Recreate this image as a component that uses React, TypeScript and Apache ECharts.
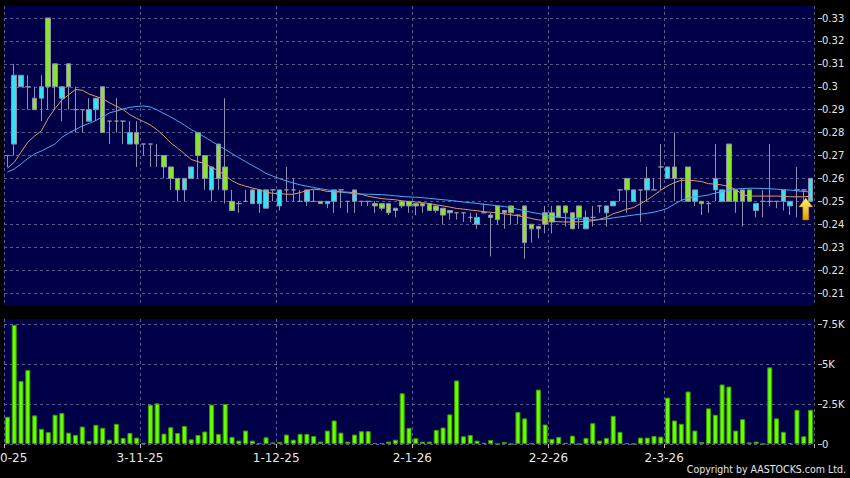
import React, { useEffect, useRef } from 'react';
import * as echarts from 'echarts';

// [open, close, low, high]
const candles: number[][] = [
  [0.27, 0.27, 0.265, 0.27], [0.275, 0.305, 0.27, 0.31], [0.30, 0.305, 0.30, 0.305], [0.30, 0.30, 0.29, 0.305],
  [0.295, 0.29, 0.29, 0.30], [0.295, 0.30, 0.285, 0.305], [0.33, 0.30, 0.29, 0.33], [0.31, 0.30, 0.29, 0.31],
  [0.295, 0.30, 0.285, 0.30], [0.31, 0.30, 0.29, 0.31], [0.29, 0.29, 0.28, 0.30], [0.29, 0.29, 0.28, 0.29],
  [0.285, 0.29, 0.285, 0.295], [0.29, 0.295, 0.285, 0.295], [0.30, 0.28, 0.28, 0.30], [0.285, 0.285, 0.275, 0.285],
  [0.285, 0.285, 0.28, 0.295], [0.285, 0.285, 0.275, 0.285], [0.275, 0.28, 0.275, 0.285], [0.28, 0.275, 0.265, 0.285],
  [0.275, 0.275, 0.27, 0.275], [0.275, 0.275, 0.265, 0.275], [0.27, 0.27, 0.265, 0.275], [0.27, 0.265, 0.26, 0.27],
  [0.265, 0.26, 0.255, 0.265], [0.26, 0.255, 0.25, 0.26], [0.255, 0.26, 0.25, 0.26], [0.26, 0.265, 0.26, 0.265],
  [0.28, 0.27, 0.26, 0.28], [0.27, 0.26, 0.255, 0.27], [0.255, 0.265, 0.25, 0.265], [0.275, 0.26, 0.255, 0.275],
  [0.265, 0.255, 0.249, 0.295], [0.25, 0.246, 0.246, 0.255], [0.249, 0.249, 0.245, 0.25], [0.25, 0.25, 0.25, 0.255],
  [0.249, 0.255, 0.249, 0.255], [0.249, 0.255, 0.245, 0.255], [0.247, 0.255, 0.247, 0.255], [0.255, 0.255, 0.25, 0.255],
  [0.248, 0.255, 0.246, 0.255], [0.255, 0.255, 0.25, 0.265], [0.255, 0.255, 0.25, 0.26], [0.25, 0.25, 0.25, 0.255],
  [0.25, 0.255, 0.248, 0.255], [0.25, 0.25, 0.25, 0.255], [0.25, 0.249, 0.249, 0.25], [0.249, 0.25, 0.247, 0.25],
  [0.25, 0.255, 0.245, 0.255], [0.255, 0.255, 0.247, 0.255], [0.25, 0.25, 0.245, 0.25], [0.25, 0.255, 0.245, 0.255],
  [0.25, 0.25, 0.248, 0.25], [0.25, 0.25, 0.248, 0.25], [0.249, 0.248, 0.245, 0.25], [0.249, 0.247, 0.246, 0.249],
  [0.249, 0.245, 0.244, 0.249], [0.246, 0.247, 0.243, 0.247], [0.25, 0.248, 0.247, 0.25], [0.25, 0.248, 0.245, 0.25],
  [0.249, 0.248, 0.244, 0.249], [0.249, 0.248, 0.245, 0.249], [0.249, 0.246, 0.246, 0.249], [0.248, 0.246, 0.245, 0.248],
  [0.247, 0.244, 0.24, 0.247], [0.246, 0.245, 0.242, 0.246], [0.245, 0.245, 0.242, 0.245], [0.245, 0.245, 0.241, 0.245],
  [0.243, 0.243, 0.241, 0.245], [0.24, 0.243, 0.238, 0.245], [0.245, 0.245, 0.245, 0.249], [0.243, 0.244, 0.226, 0.245],
  [0.248, 0.242, 0.24, 0.248], [0.245, 0.246, 0.238, 0.246], [0.248, 0.245, 0.24, 0.248], [0.244, 0.244, 0.24, 0.244],
  [0.248, 0.232, 0.225, 0.248], [0.24, 0.238, 0.232, 0.24], [0.238, 0.239, 0.234, 0.239], [0.245, 0.24, 0.236, 0.248],
  [0.245, 0.241, 0.236, 0.248], [0.248, 0.243, 0.243, 0.248], [0.248, 0.245, 0.239, 0.248], [0.245, 0.238, 0.238, 0.245],
  [0.248, 0.243, 0.238, 0.248], [0.238, 0.243, 0.238, 0.246], [0.243, 0.243, 0.239, 0.248], [0.248, 0.248, 0.245, 0.248],
  [0.245, 0.248, 0.239, 0.248], [0.248, 0.25, 0.248, 0.25], [0.255, 0.255, 0.25, 0.255], [0.26, 0.255, 0.245, 0.26],
  [0.25, 0.255, 0.25, 0.255], [0.255, 0.255, 0.241, 0.255], [0.255, 0.26, 0.25, 0.265], [0.255, 0.255, 0.255, 0.26],
  [0.265, 0.265, 0.255, 0.275], [0.26, 0.265, 0.26, 0.265], [0.265, 0.26, 0.25, 0.28], [0.26, 0.26, 0.25, 0.26],
  [0.265, 0.25, 0.25, 0.265], [0.25, 0.255, 0.248, 0.255], [0.25, 0.249, 0.244, 0.25], [0.249, 0.249, 0.245, 0.25],
  [0.255, 0.26, 0.25, 0.275], [0.25, 0.255, 0.25, 0.255], [0.275, 0.25, 0.25, 0.275], [0.255, 0.25, 0.245, 0.255],
  [0.255, 0.25, 0.239, 0.255], [0.255, 0.25, 0.25, 0.255], [0.246, 0.249, 0.243, 0.249], [0.25, 0.25, 0.243, 0.255],
  [0.25, 0.25, 0.248, 0.275], [0.25, 0.25, 0.247, 0.25], [0.25, 0.255, 0.246, 0.255], [0.248, 0.25, 0.244, 0.25],
  [0.255, 0.255, 0.243, 0.265], [0.255, 0.255, 0.25, 0.255], [0.25, 0.26, 0.25, 0.26],
];

const volumes: number[] = [
  1700, 7450, 3930, 4620, 1790, 950, 740, 1830, 1930, 710, 570, 1090, 190, 1200, 1010, 270, 1260, 380, 690, 400,
  80, 2460, 2540, 650, 1050, 690, 1130, 290, 570, 780, 2460, 630, 2500, 440, 210, 840, 210, 60, 420, 100,
  130, 590, 270, 630, 630, 500, 150, 840, 1470, 710, 150, 590, 800, 800, 60, 60, 150, 270, 3170, 1010,
  360, 150, 150, 880, 1030, 1850, 3970, 480, 570, 210, 80, 250, 0, 130, 0, 2000, 1600, 40, 3400, 1220,
  320, 440, 80, 520, 0, 380, 1300, 210, 380, 1760, 760, 60, 0, 400, 400, 500, 460, 2900, 1470, 1260,
  3280, 840, 130, 2230, 1830, 3720, 3590, 840, 1550, 100, 150, 0, 4790, 1600, 760, 60, 2140, 480, 2140,
];

const maShort: number[] = [
  0.2645, 0.267, 0.2715, 0.2758, 0.2785, 0.2808, 0.2863, 0.2905, 0.2942, 0.2965, 0.2988, 0.2985, 0.2968, 0.2958, 0.2948,
  0.293, 0.2915, 0.29, 0.2878, 0.2862, 0.2848, 0.2833, 0.2812, 0.2785, 0.2755, 0.2732, 0.2708, 0.2683, 0.2673, 0.2665,
  0.2648, 0.2634, 0.2613, 0.259, 0.2575, 0.2566, 0.2558, 0.2551, 0.254, 0.2535, 0.2534, 0.2531, 0.2531, 0.2538, 0.2547,
  0.2553, 0.255, 0.2543, 0.2542, 0.2541, 0.254, 0.2538, 0.2531, 0.2522, 0.2517, 0.2512, 0.2509, 0.2507, 0.2502, 0.2499,
  0.2497, 0.2494, 0.249, 0.2485, 0.248, 0.2475, 0.2469, 0.2466, 0.2462, 0.2459, 0.2455, 0.2452, 0.245, 0.2445, 0.2441,
  0.2437, 0.2432, 0.2425, 0.2419, 0.2416, 0.2412, 0.2411, 0.241, 0.241, 0.2411, 0.2413, 0.2415, 0.2422, 0.243, 0.2446,
  0.2455, 0.2466, 0.2473, 0.249, 0.2506, 0.2527, 0.2549, 0.2567, 0.2582, 0.2592, 0.2592, 0.259, 0.2586, 0.2577, 0.2575,
  0.2571, 0.2565, 0.2552, 0.253, 0.2523, 0.2523, 0.2523, 0.2523, 0.2523, 0.2522, 0.252, 0.252, 0.252, 0.2522,
];

const maLong: number[] = [
  0.2628, 0.2641, 0.2663, 0.2687, 0.2707, 0.272, 0.2735, 0.275, 0.2779, 0.2798, 0.2813, 0.2829, 0.284, 0.2853, 0.2868,
  0.2886, 0.2894, 0.2903, 0.291, 0.2914, 0.2916, 0.2912, 0.2899, 0.2883, 0.2868, 0.2851, 0.2833, 0.2813, 0.2798, 0.278,
  0.2762, 0.2744, 0.2727, 0.2708, 0.269, 0.2673, 0.2656, 0.264, 0.2622, 0.261, 0.2599, 0.2589, 0.258, 0.2572, 0.2566,
  0.256, 0.2555, 0.255, 0.2546, 0.2541, 0.2537, 0.2533, 0.2532, 0.2531, 0.253, 0.2529, 0.2527, 0.2524, 0.2521, 0.2519,
  0.2518, 0.2516, 0.2513, 0.251, 0.2507, 0.2504, 0.2501, 0.2497, 0.2494, 0.2491, 0.2487, 0.2484, 0.2481, 0.2477, 0.2472,
  0.2465, 0.2459, 0.2452, 0.2447, 0.2441, 0.2435, 0.2431, 0.2428, 0.2426, 0.2423, 0.242, 0.2419, 0.242, 0.2423, 0.2428,
  0.2432, 0.2436, 0.244, 0.2444, 0.2448, 0.2453, 0.246, 0.247, 0.2488, 0.2504, 0.2515, 0.252, 0.2523, 0.2528, 0.2536,
  0.2542, 0.2548, 0.2553, 0.2556, 0.2557, 0.2557, 0.2556, 0.2555, 0.2553, 0.2551, 0.2549, 0.2546, 0.2543, 0.2541,
];

const dateLabels: string[] = ['2-10-25', '3-11-25', '1-12-25', '2-1-26', '2-2-26', '2-3-26'];
const labelIndex: number[] = [0, 20, 40, 60, 80, 97];
const priceMin = 0.21;
const priceMax = 0.33;
const priceStep = 0.01;
const volMax = 7500;
const volStep = 2500;
const arrowIndex = 117;
const arrowValue = 0.2467;

const categories = candles.map((_, i) => 'd' + i);

const BG = '#000048';
const GRID = '#5a5a8c';
const TEXT = '#e6e6e6';
const FONT = 'DejaVu Sans';

export default function App() {
  const ref = useRef<HTMLDivElement>(null);
  useEffect(() => {
    document.body.style.margin = '0';
    document.body.style.background = '#000';
    const chart = echarts.init(ref.current!, undefined, { renderer: 'svg' });
    const isLabel = (i: number) => labelIndex.includes(i);
    const gridCommon = { left: 4, right: 36, outerBoundsMode: 'none', containLabel: false };
    const vSplit = {
      show: true,
      interval: (i: number) => isLabel(i),
      lineStyle: { color: GRID, type: [3, 3] as any, width: 1 },
    };
    const hSplit = { show: true, lineStyle: { color: GRID, type: [3, 3] as any, width: 1 } };
    const option: any = {
      animation: false,
      backgroundColor: '#000',
      textStyle: { fontFamily: FONT },
      grid: [
        { ...gridCommon, top: 18, height: 275 },
        { ...gridCommon, top: 324, height: 120 },
        { ...gridCommon, top: 6, height: 300, show: true, backgroundColor: BG, borderWidth: 0 },
        { ...gridCommon, top: 319, height: 125, show: true, backgroundColor: BG, borderWidth: 0 },
      ],
      xAxis: [
        { gridIndex: 0, type: 'category', data: categories, show: false },
        {
          gridIndex: 1, type: 'category', data: categories,
          axisLine: { show: false },
          axisTick: { show: true, interval: (i: number) => isLabel(i), length: 4, lineStyle: { color: '#bbbbbb' } },
          axisLabel: {
            show: true, interval: (i: number) => isLabel(i), margin: 8, hideOverlap: false,
            formatter: (_v: string, i: number) => '{a|' + dateLabels[labelIndex.indexOf(i)] + '}',
            rich: { a: { padding: [0, 7, 0, 0], color: TEXT, fontSize: 12, fontFamily: FONT } },
          },
          splitLine: { show: false },
        },
        { gridIndex: 2, type: 'category', data: categories, axisLine: { show: false }, axisTick: { show: false }, axisLabel: { show: false }, splitLine: vSplit },
        { gridIndex: 3, type: 'category', data: categories, axisLine: { show: false }, axisTick: { show: false }, axisLabel: { show: false }, splitLine: vSplit },
      ],
      yAxis: [
        {
          gridIndex: 0, type: 'value', position: 'right', min: priceMin, max: priceMax, interval: priceStep, offset: 4,
          axisLine: { show: false },
          axisTick: { show: true, length: 4, lineStyle: { color: '#bbbbbb' } },
          axisLabel: { color: TEXT, fontSize: 10, margin: 4, fontFamily: FONT, formatter: (v: number) => String(+v.toFixed(2)) },
          splitLine: hSplit,
        },
        {
          gridIndex: 1, type: 'value', position: 'right', min: 0, max: volMax, interval: volStep, offset: 4,
          axisLine: { show: false },
          axisTick: { show: true, length: 4, lineStyle: { color: '#bbbbbb' } },
          axisLabel: { color: TEXT, fontSize: 10, margin: 4, fontFamily: FONT, formatter: (v: number) => (v === 0 ? '0' : v / 1000 + 'K') },
          splitLine: hSplit,
        },
        { gridIndex: 2, type: 'value', show: false, splitLine: { show: false } },
        { gridIndex: 3, type: 'value', show: false, splitLine: { show: false } },
      ],
      series: [
        {
          type: 'candlestick', xAxisIndex: 0, yAxisIndex: 0, data: candles, barWidth: 5,
          itemStyle: {
            color: '#33e3f2', color0: '#86e62a',
            borderColor: '#9090ae', borderColor0: '#9090ae', borderColorDoji: '#9090ae', borderWidth: 1,
          },
          markPoint: {
            symbol: 'path://M7 0 L14 9 L10 9 L10 22 L4 22 L4 9 L0 9 Z',
            symbolSize: [14, 22],
            symbolOffset: [2, 0],
            label: { show: false },
            itemStyle: {
              color: new echarts.graphic.LinearGradient(0, 0, 0, 1, [
                { offset: 0, color: '#fff27a' },
                { offset: 1, color: '#e0a000' },
              ]),
              borderColor: '#b07800', borderWidth: 0.5,
            },
            data: [{ coord: [categories[arrowIndex], arrowValue] }],
          },
          z: 3,
        },
        {
          type: 'line', xAxisIndex: 0, yAxisIndex: 0, data: maShort, symbol: 'none',
          lineStyle: { color: '#e59468', width: 1 }, z: 4,
        },
        {
          type: 'line', xAxisIndex: 0, yAxisIndex: 0, data: maLong, symbol: 'none',
          lineStyle: { color: '#3fb0f0', width: 1 }, z: 4,
        },
        {
          type: 'bar', xAxisIndex: 1, yAxisIndex: 1, data: volumes, barWidth: 5,
          itemStyle: { color: '#66ff00', borderColor: '#3c9a00', borderWidth: 1 },
        },
      ],
      graphic: [
        {
          type: 'text', x: 846, y: 469, scaleX: 0.86,
          style: {
            text: 'Copyright by AASTOCKS.com Ltd.', fill: TEXT, font: '11px "DejaVu Sans"',
            textAlign: 'right', textVerticalAlign: 'middle',
          },
        },
      ],
    };
    chart.setOption(option);
    return () => chart.dispose();
  }, []);
  return <div ref={ref} style={{ width: 850, height: 478, background: '#000' }} />;
}
